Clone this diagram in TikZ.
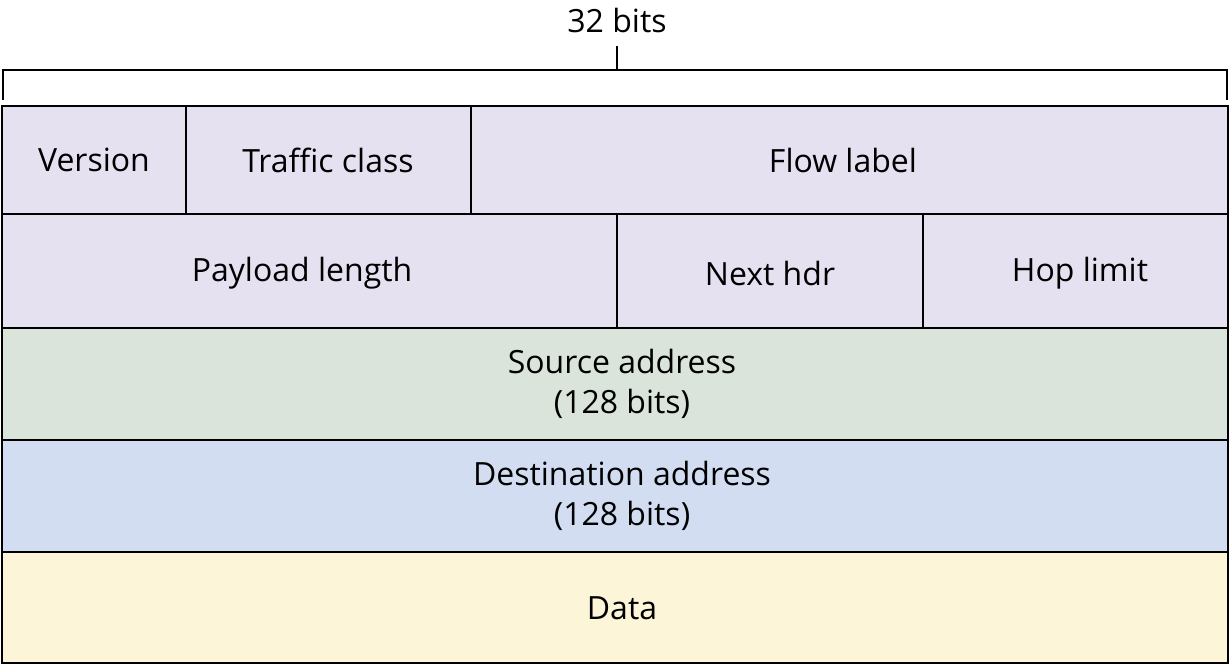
\documentclass[tikz,border=0pt]{standalone}
\usepackage{fontspec}
\setmainfont{Open Sans}
\definecolor{lav}{HTML}{E5E1F0}
\definecolor{grn}{HTML}{DAE4DA}
\definecolor{blu}{HTML}{D3DDF1}
\definecolor{yel}{HTML}{FDF5D8}
\begin{document}
\begin{tikzpicture}[x=0.75pt,y=-0.75pt,
  cell/.style={draw=black,line width=1.5pt},
  lab/.style={font=\fontsize{24}{30}\selectfont,align=center,inner sep=0pt}]
\useasboundingbox (0,0) rectangle (1230,665);
\fill[lav] (2,106) rectangle (1228,328);
\fill[grn] (2,328) rectangle (1228,440);
\fill[blu] (2,440) rectangle (1228,552);
\fill[yel] (2,552) rectangle (1228,663);
\draw[cell] (2,106) rectangle (1228,663);
\draw[cell] (2,214) -- (1228,214) (2,328) -- (1228,328) (2,440) -- (1228,440) (2,552) -- (1228,552);
\draw[cell] (186,106) -- (186,214) (471,106) -- (471,214);
\draw[cell] (617,214) -- (617,328) (923,214) -- (923,328);
\draw[line width=1.5pt] (3,100) -- (3,70) -- (1227,70) -- (1227,100);
\draw[line width=1.5pt] (617,70) -- (617,46);
\node[lab] (bits) at (617,20) {32 bits};
\node[lab] (ver) at (94,160) {Version};
\node[lab] (tc) at (328,160) {Traffic class};
\node[lab] (fl) at (843,160) {Flow label};
\node[lab] (pl) at (302,273) {Payload length};
\node[lab] (nh) at (770,273) {Next hdr};
\node[lab] (hl) at (1080,273) {Hop limit};
\node[lab] (src) at (622,384) {Source address\\(128 bits)};
\node[lab] (dst) at (622,496) {Destination address\\(128 bits)};
\node[lab] (data) at (622,608) {Data};
\end{tikzpicture}
\end{document}
